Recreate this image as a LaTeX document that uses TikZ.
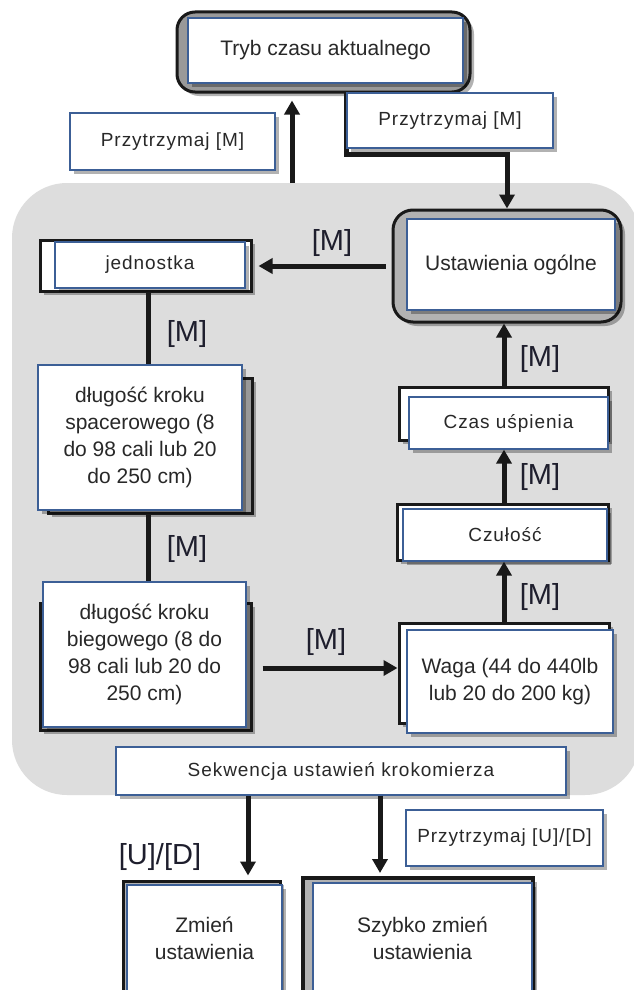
\documentclass[tikz,border=0pt]{standalone}
\usepackage{fontspec}
\setmainfont{Liberation Sans}
\newfontfamily\spacedfont[LetterSpace=5]{Liberation Sans}
\usetikzlibrary{arrows.meta,shadows}
\definecolor{bluec}{RGB}{60,95,150}
\definecolor{txtc}{RGB}{40,40,40}
\definecolor{lblc}{RGB}{30,30,45}
\definecolor{arrc}{RGB}{25,25,25}
\definecolor{bgc}{RGB}{221,221,221}
\begin{document}
\begin{tikzpicture}[x=1pt,y=-1pt,
  shd/.style={drop shadow={shadow xshift=4pt,shadow yshift=-4pt,opacity=0.3,fill=black}},
  bx/.style={draw=bluec,line width=1.2pt,fill=white,inner sep=0pt,align=center,text=txtc,shd},
  frm/.style={draw=black!90,line width=3pt,inner sep=0pt,shd},
  sz/.style 2 args={minimum width=#1,minimum height=#2},
  bigt/.style={font=\fontsize{21}{27}\selectfont},
  smlt/.style={font=\spacedfont\fontsize{19}{23}\selectfont},
  lbl/.style={font=\fontsize{29}{32}\selectfont,text=lblc,inner sep=0pt},
  ln/.style={draw=arrc,line width=5pt},
  arr/.style={ln,-{Triangle[length=14pt,width=15pt]}}]
\useasboundingbox (0,0) rectangle (634,990);
\clip (0,0) rectangle (634,990);
\fill[white] (0,0) rectangle (634,990);
% gray background
\path[fill=bgc,rounded corners=55pt] (12,183) rectangle (640,795);

% top node
\node[frm,fill=black!40,rounded corners=18pt,sz={293pt}{80pt}] (trybF) at (323.5,52) {};
\node[bx,bigt,sz={275pt}{65pt}] (tryb) at (325.5,50.5) {Tryb czasu aktualnego};

% general settings
\node[frm,fill=black!30,rounded corners=20pt,sz={228pt}{112pt}] (ustF) at (507,266) {};
\node[bx,bigt,sz={208pt}{91pt}] (ust) at (511,264.5) {Ustawienia ogólne};

% hold connector into settings
\coordinate (lS) at (346,92);
\draw[arr] (lS) -- ++(0,62) -| (ustF.north);
\node[bx,smlt,sz={206pt}{55pt}] (hold2) at (450,120.5) {Przytrzymaj [M]};

\node[bx,smlt,sz={205pt}{57pt}] (hold1) at (172.5,141.5) {Przytrzymaj [M]};
\coordinate (upS) at (292,183);
\draw[arr,shorten >=7pt] (upS) -- (upS |- trybF.south);

% left column
\node[frm,fill=white,sz={211pt}{51pt}] (jedF) at (145.5,265.5) {};
\node[bx,smlt,sz={190pt}{46pt}] (jed) at (150,265) {jednostka};
\draw[arr,shorten <=6pt,shorten >=6pt] (ustF.west) -- (ustF.west -| jedF.east);
\node[lbl] (mA) at (332,243) {[M]};

\coordinate (colx) at (148,0);
\node[frm,fill=black!40,sz={204pt}{135pt}] (spaF) at (150,445.5) {};
\node[bx,bigt,sz={204pt}{145pt}] (spa) at (140,437.5) {długość kroku\\spacerowego (8\\do 98 cali lub 20\\do 250 cm)};
\draw[ln] (jedF.south -| colx) -- (spa.north -| colx);
\node[lbl] (mB) at (187,334) {[M]};

\node[frm,fill=black!40,sz={211pt}{127pt}] (bieF) at (145.5,666.5) {};
\node[bx,bigt,sz={203pt}{145pt}] (bie) at (144.5,654.5) {długość kroku\\biegowego (8 do\\98 cali lub 20 do\\250 cm)};
\draw[ln] (spaF.south -| colx) -- (bie.north -| colx);
\node[lbl] (mC) at (187,549) {[M]};

% right column
\node[frm,fill=white,sz={210pt}{100pt}] (wagF) at (504,673) {};
\node[bx,bigt,sz={206pt}{103pt}] (wag) at (510,681.5) {Waga (44 do 440lb\\lub 20 do 200 kg)};
\coordinate (rowy) at (0,668);
\draw[arr,shorten <=10pt] (bieF.east |- rowy) -- (wagF.west |- rowy);
\node[lbl] (mD) at (326,642) {[M]};

\coordinate (colr) at (504,0);
\node[frm,fill=white,sz={211pt}{56pt}] (czuF) at (502.5,532) {};
\node[bx,smlt,sz={204pt}{52pt}] (czu) at (505,535) {Czułość};
\draw[arr] (wagF.north -| colr) -- (czu.south -| colr);
\node[lbl] (mE) at (540,597) {[M]};

\node[frm,fill=white,sz={209pt}{53pt}] (czaF) at (503.5,413.5) {};
\node[bx,smlt,sz={199pt}{52pt}] (cza) at (508.5,423) {Czas uśpienia};
\draw[arr] (czuF.north -| colr) -- (cza.south -| colr);
\node[lbl] (mF) at (540,477) {[M]};
\draw[arr] (czaF.north -| colr) -- (ustF.south -| colr);
\node[lbl] (mG) at (540,359) {[M]};

% bottom
\node[bx,smlt,sz={450pt}{48pt}] (sek) at (341,771) {Sekwencja ustawień krokomierza};
\node[bx,smlt,sz={197pt}{56pt}] (hold3) at (504.5,838) {Przytrzymaj [U]/[D]};

\node[frm,fill=black!30,sz={157pt}{114pt}] (zmF) at (201.5,938) {};
\node[bx,bigt,sz={155pt}{107pt}] (zm) at (204.5,938.5) {Zmień\\ustawienia};
\node[frm,line width=4pt,fill=black!30,sz={230pt}{117pt}] (szF) at (418,936.5) {};
\node[bx,bigt,sz={219pt}{110pt}] (sz) at (422.5,938) {Szybko zmień\\ustawienia};

\coordinate (c1) at (248,0);
\coordinate (c2) at (380,0);
\draw[arr,shorten >=4pt] (sek.south -| c1) -- (zmF.north -| c1);
\draw[arr,shorten >=3pt] (sek.south -| c2) -- (szF.north -| c2);
\node[lbl] (ud) at (160,857) {[U]/[D]};
\end{tikzpicture}
\end{document}
